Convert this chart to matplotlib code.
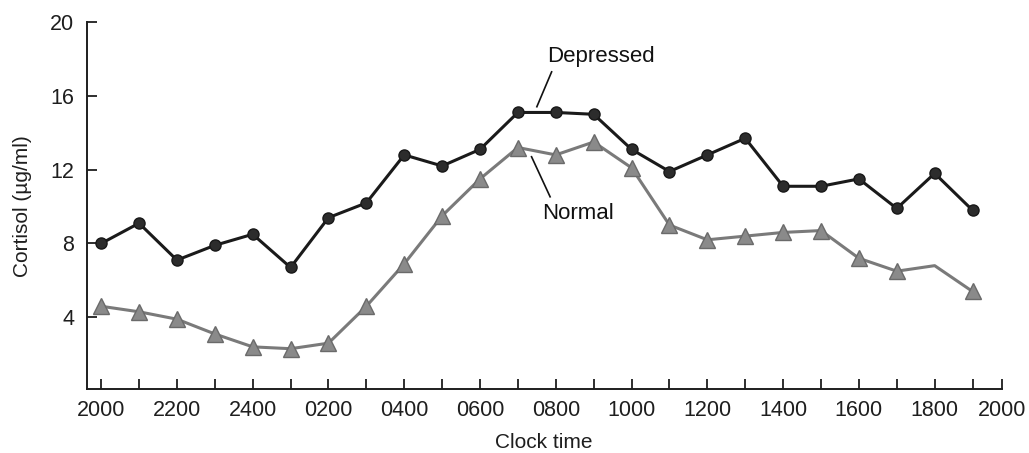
import matplotlib.pyplot as plt
import numpy as np

plt.rcParams['font.family'] = ['Liberation Sans', 'DejaVu Sans']

hours = ['2000', '2100', '2200', '2300', '2400', '0100', '0200', '0300',
         '0400', '0500', '0600', '0700', '0800', '0900', '1000', '1100',
         '1200', '1300', '1400', '1500', '1600', '1700', '1800', '1900']
depressed = [8.0, 9.1, 7.1, 7.9, 8.5, 6.7, 9.4, 10.2, 12.8, 12.2, 13.1, 15.1,
             15.1, 15.0, 13.1, 11.9, 12.8, 13.7, 11.1, 11.1, 11.5, 9.9, 11.8, 9.8]
normal = [4.6, 4.3, 3.9, 3.1, 2.4, 2.3, 2.6, 4.6, 6.9, 9.5, 11.5, 13.2,
          12.8, 13.5, 12.1, 9.0, 8.2, 8.4, 8.6, 8.7, 7.2, 6.5, 6.8, 5.4]
yticks = [4, 8, 12, 16, 20]

x = np.arange(len(hours))

fig = plt.figure(figsize=(10.29, 4.53), dpi=100)
ax = fig.add_axes([0.0843, 0.1406, 0.8892, 0.8108])

# normal group: grey triangles (no marker at 1800)
marks = [i for i in range(len(hours)) if hours[i] != '1800']
ax.plot(x, normal, color='#7a7a7a', lw=2.2, marker='^', markersize=11,
        markerfacecolor='#8a8a8a', markeredgecolor='#6a6a6a', markevery=marks)
# depressed group: dark circles
ax.plot(x, depressed, color='#1a1a1a', lw=2.2, marker='o', markersize=8,
        markerfacecolor='#2c2c2c', markeredgecolor='#181818')

# axis ends a little short of the next 2000 position
x_end = 23.77
ax.set_xlim(-0.38, x_end)
ax.set_ylim(0.1, 20)

xt = list(x) + [x_end]
xl = [h if i % 2 == 0 else '' for i, h in enumerate(hours)] + ['2000']
ax.set_xticks(xt)
ax.set_xticklabels(xl)
ax.set_yticks(yticks)

ax.tick_params(axis='both', direction='in', length=7, width=1.3,
               labelsize=15.5, colors='#1e1e1e')
ax.tick_params(axis='x', pad=8)
ax.tick_params(axis='y', pad=9)

for s in ['top', 'right']:
    ax.spines[s].set_visible(False)
for s in ['left', 'bottom']:
    ax.spines[s].set_linewidth(1.4)
    ax.spines[s].set_color('#1e1e1e')

ax.set_xlabel('Clock time', fontsize=15, color='#1e1e1e', labelpad=8)
ax.set_ylabel('Cortisol (µg/ml)', fontsize=15, color='#1e1e1e', labelpad=13)

# group labels with leader lines
ax.text(13.19, 18.15, 'Depressed', fontsize=16, ha='center', va='center',
        color='#111111')
ax.plot([11.89, 11.50], [17.30, 15.41], color='#111111', lw=1.2)
ax.text(12.59, 9.65, 'Normal', fontsize=16, ha='center', va='center',
        color='#111111')
ax.plot([11.36, 11.85], [12.70, 10.53], color='#111111', lw=1.2)

plt.savefig('out.png', dpi=100)
